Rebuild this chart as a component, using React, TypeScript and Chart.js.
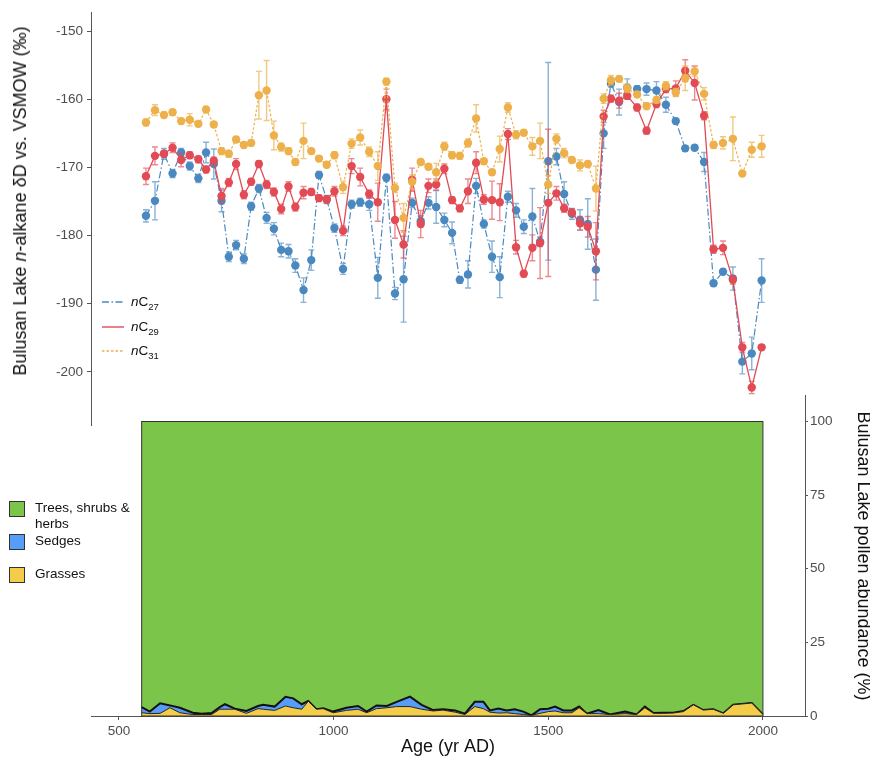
import React, { useEffect, useRef } from 'react';
import { Chart, registerables } from 'chart.js';

Chart.register(...registerables);

const FONT = '"Liberation Sans", Arial, Helvetica, sans-serif';

// ---- n-alkane dD record (yr AD) ----
const ages = [563,584,605,625,645,665,685,703,721,739,756,773,791,808,826,844,861,878,895,911,930,948,966,984,1002,1022,1042,1062,1083,1103,1123,1143,1163,1183,1203,1221,1239,1258,1276,1294,1313,1332,1350,1369,1387,1406,1425,1443,1463,1481,1500,1519,1537,1555,1574,1592,1611,1629,1646,1665,1684,1707,1729,1752,1774,1797,1819,1841,1863,1885,1907,1930,1952,1974,1997];

const nC27 = [-177.1,-174.9,-168.0,-170.9,-167.8,-169.8,-171.6,-167.8,-169.5,-174.9,
-183.1,-181.4,-183.4,-175.7,-173.1,-177.4,-179.0,-182.1,-182.3,-184.4,
-188.0,-183.6,-171.1,-174.7,-178.9,-184.9,-175.4,-175.1,-175.4,-186.2,
-171.5,-188.5,-186.4,-175.2,-177.9,-175.2,-175.8,-177.7,-179.6,-186.5,
-185.7,-172.7,-178.3,-183.1,-186.1,-174.3,-176.3,-178.7,-177.2,-180.9,
-169.1,-168.4,-173.9,-176.8,-177.7,-178.3,-185.0,-165.0,-157.7,-160.4,
-158.3,-158.5,-158.5,-158.7,-160.8,-163.2,-167.2,-167.1,-169.2,-187.0,
-185.3,-186.3,-198.5,-197.3,-186.6];
const nC27Err = [0.9,2.8,0.8,0.6,0.6,0.6,0.6,1.5,2.2,1.6,
0.7,0.7,0.7,0.6,0.6,0.8,0.9,1.0,1.0,1.0,
1.8,1.5,0.5,0.6,0.6,0.8,0.6,0.6,0.9,3.0,
0.5,0.9,6.3,0.7,0.8,0.9,2.4,1.0,1.6,0.5,
2.0,1.1,0.6,2.3,3.0,0.8,1.0,1.0,4.1,0.7,
14.5,1.2,1.8,0.8,1.5,3.7,4.5,2.2,0.5,1.9,
1.3,0.5,0.9,1.3,1.1,0.4,0.4,0.4,1.4,0.4,
0.4,1.7,1.8,2.4,3.2];

const nC29 = [-171.3,-168.3,-168.0,-167.1,-168.9,-168.2,-168.8,-170.3,-169.0,-174.2,
-172.2,-169.5,-174.0,-172.1,-169.5,-172.5,-173.6,-176.1,-172.8,-175.8,
-173.7,-173.6,-174.5,-174.7,-173.5,-179.3,-169.8,-171.4,-173.9,-175.1,
-160.0,-177.7,-181.3,-171.8,-178.3,-172.7,-172.5,-170.2,-174.8,-176.0,
-173.5,-169.3,-174.7,-174.8,-175.1,-165.1,-181.7,-185.6,-181.8,-181.1,
-175.2,-173.8,-176.0,-176.6,-178.2,-178.7,-182.3,-162.5,-159.9,-160.2,
-159.5,-161.2,-164.6,-160.7,-158.5,-158.4,-155.8,-157.6,-162.4,-182.0,
-181.8,-186.5,-196.4,-202.3,-196.4];
const nC29Err = [1.2,1.3,0.5,0.7,1.0,0.5,0.5,0.5,0.5,1.1,
0.6,0.8,0.6,0.5,0.5,0.6,0.6,0.7,0.7,0.6,
0.9,0.5,0.5,0.5,0.7,0.7,1.1,1.3,0.6,2.8,
1.5,2.7,2.0,1.7,2.0,1.0,0.8,0.7,0.5,0.5,
1.8,1.6,0.7,2.8,2.7,0.8,1.0,0.5,1.9,5.2,
10.8,1.0,0.6,0.5,1.0,1.5,4.2,0.9,0.5,1.1,
0.5,0.5,0.5,0.5,0.5,1.1,1.6,2.5,0.6,0.6,
1.0,0.6,0.7,0.9,0.3];

const nC31 = [-163.4,-161.6,-162.3,-161.9,-163.2,-163.0,-163.6,-161.5,-163.7,-167.6,
-168.0,-165.9,-166.7,-166.4,-159.4,-158.7,-165.3,-167.0,-167.6,-169.2,
-166.1,-167.6,-168.7,-169.6,-168.2,-172.9,-166.5,-165.6,-167.7,-169.8,
-157.4,-173.0,-177.4,-172.1,-169.2,-169.9,-170.7,-166.9,-168.2,-168.3,
-166.4,-162.8,-169.1,-170.7,-167.3,-161.2,-165.2,-164.9,-166.9,-166.1,
-172.5,-165.8,-167.9,-168.9,-169.7,-169.5,-173.1,-159.9,-157.2,-157.0,
-158.4,-159.3,-161.0,-160.1,-158.0,-159.0,-156.9,-155.9,-159.2,-166.7,
-166.4,-165.8,-170.9,-167.4,-166.9];
const nC31Err = [0.5,0.8,0.4,0.4,0.4,0.9,0.4,0.4,0.4,0.5,
0.5,0.4,0.4,0.4,3.5,4.4,2.1,0.6,0.5,0.5,
2.6,0.4,0.4,0.4,0.5,0.9,0.7,1.1,0.7,2.1,
0.5,0.7,2.1,1.0,0.4,0.4,1.3,0.6,0.5,0.5,
0.6,2.0,0.4,0.4,1.9,0.7,0.6,0.4,1.3,2.6,
1.3,0.7,0.7,0.4,0.8,0.4,3.3,0.7,0.7,0.4,
0.6,0.4,0.5,0.4,0.6,0.6,1.8,0.7,0.9,0.5,
0.9,3.2,0.3,1.1,1.6];

// ---- pollen record (%) ----
const pollenAges = [553,572,596,619,642,672,693,716,735,747,770,797,824,836,863,888,906,926,941,960,976,999,1030,1057,1077,1100,1124,1147,1178,1205,1232,1255,1283,1306,1329,1349,1364,1384,1403,1422,1442,1461,1481,1500,1516,1535,1555,1572,1590,1617,1644,1679,1706,1725,1745,1768,1791,1815,1838,1861,1884,1908,1931,1974,2000];
const grasses = [1.1,0.8,0.9,2.8,1.1,0.5,0.5,0.5,2.3,2.3,2.3,0.9,2.5,2.3,1.9,3.4,2.8,2.3,5.0,2.3,2.5,1.1,1.9,2.3,1.1,2.5,2.8,3.2,3.2,2.3,1.7,2.0,1.3,0.5,3.2,2.5,1.3,1.0,1.1,0.8,0.5,0.2,0.9,1.5,1.7,1.1,1.1,2.8,0.8,0.8,0.5,0.8,0.5,2.8,0.9,0.9,1.0,1.5,3.8,2.0,2.3,0.9,3.8,4.4,0.5];
const sedges = [1.9,0.7,3.4,0.8,1.7,0.6,0.3,0.5,0.7,1.7,0.2,0.8,0.9,1.5,1.3,3.1,3.2,1.7,0.1,0.0,0.1,0.4,0.9,1.1,0.4,1.1,0.6,1.6,3.4,1.5,0.3,0.3,0.6,0.3,1.6,2.3,0.6,1.5,0.8,1.5,1.0,0.0,1.4,1.0,1.5,0.8,0.8,0.4,0.0,1.2,0.0,0.7,0.0,0.4,0.1,0.2,0.1,0.2,0,0,0,0,0,0,0];
const treesShrubsHerbs = pollenAges.map((_, i) => 100 - grasses[i] - sedges[i]);

const deltaTicks = [-150, -160, -170, -180, -190, -200];
const ageTicks = [500, 1000, 1500, 2000];
const pollenTicks = [0, 25, 50, 75, 100];

const BLUE = '#4A88C0';
const RED = '#E24A54';
const YEL = '#EDB04A';
const BLUE_E = 'rgba(74,136,192,0.65)';
const RED_E = 'rgba(226,74,84,0.65)';
const YEL_E = 'rgba(237,176,74,0.7)';
const P_GREEN = '#7AC54A';
const P_BLUE = '#579CF8';
const P_YEL = '#F3CD4A';
const AXIS = '#555555';
const TICK = '#4d4d4d';

export default function App() {
  const topRef = useRef<HTMLCanvasElement>(null);
  const botRef = useRef<HTMLCanvasElement>(null);

  useEffect(() => {
    const seriesVals = [nC31, nC29, nC27];
    const seriesErr = [nC31Err, nC29Err, nC27Err];
    const errColors = [YEL_E, RED_E, BLUE_E];

    const errorBars = {
      id: 'errorBars',
      beforeDatasetDraw(chart: any, args: any) {
        const i = args.index;
        const vals = seriesVals[i];
        const errs = seriesErr[i];
        const ys = chart.scales.y;
        const ctx = chart.ctx;
        ctx.save();
        ctx.strokeStyle = errColors[i];
        ctx.lineWidth = 1.4;
        args.meta.data.forEach((pt: any, j: number) => {
          const x = pt.x;
          const t = ys.getPixelForValue(vals[j] + errs[j]);
          const b = ys.getPixelForValue(vals[j] - errs[j]);
          ctx.beginPath();
          ctx.moveTo(x, t); ctx.lineTo(x, b);
          ctx.moveTo(x - 3, t); ctx.lineTo(x + 3, t);
          ctx.moveTo(x - 3, b); ctx.lineTo(x + 3, b);
          ctx.stroke();
        });
        ctx.restore();
      },
    };

    const outline = {
      id: 'outline',
      afterDatasetsDraw(chart: any) {
        const xs = chart.scales.x;
        const ys = chart.scales.y;
        const ctx = chart.ctx;
        const x0 = xs.getPixelForValue(pollenAges[0]);
        const x1 = xs.getPixelForValue(pollenAges[pollenAges.length - 1]);
        const y0 = ys.getPixelForValue(0);
        const y1 = ys.getPixelForValue(100);
        ctx.save();
        ctx.strokeStyle = '#333';
        ctx.lineWidth = 1;
        ctx.strokeRect(x0, y1, x1 - x0, y0 - y1);
        ctx.restore();
      },
    };

    const mk = (vals: number[]) => ages.map((a, i) => ({ x: a, y: vals[i] }));

    const top = new Chart(topRef.current as HTMLCanvasElement, {
      type: 'line',
      data: {
        datasets: [
          { label: 'nC31', data: mk(nC31), borderColor: YEL, backgroundColor: YEL, borderWidth: 1.2, borderDash: [2.5, 2], pointRadius: 4.2, pointHoverRadius: 4.2, pointBorderWidth: 0, pointBackgroundColor: YEL, tension: 0 },
          { label: 'nC29', data: mk(nC29), borderColor: RED, backgroundColor: RED, borderWidth: 1.3, pointRadius: 4.2, pointHoverRadius: 4.2, pointBorderWidth: 0, pointBackgroundColor: RED, tension: 0 },
          { label: 'nC27', data: mk(nC27), borderColor: BLUE, backgroundColor: BLUE, borderWidth: 1.2, borderDash: [7, 2.5, 1.5, 2.5], pointRadius: 4.2, pointHoverRadius: 4.2, pointBorderWidth: 0, pointBackgroundColor: BLUE, tension: 0 },
        ],
      } as any,
      options: {
        responsive: false,
        animation: false,
        events: [],
        layout: { padding: { left: 0, right: 65, top: 12, bottom: 334 } },
        plugins: { legend: { display: false }, tooltip: { enabled: false } },
        scales: {
          x: { type: 'linear', display: false, min: 435, max: 2098 },
          y: {
            type: 'linear',
            min: -207.8,
            max: -147.2,
            afterFit: (s: any) => { s.width = 91; },
            afterBuildTicks: (s: any) => { s.ticks = deltaTicks.map((v) => ({ value: v })); },
            grid: { drawOnChartArea: false, drawTicks: true, tickLength: 4, color: AXIS },
            border: { display: true, color: AXIS, width: 1 },
            ticks: { font: { family: FONT, size: 13.5 }, color: TICK, padding: 4, callback: (v: any) => String(v) },
          },
        },
      } as any,
      plugins: [errorBars],
    });

    const bot = new Chart(botRef.current as HTMLCanvasElement, {
      type: 'line',
      data: {
        datasets: [
          { label: 'Grasses', data: pollenAges.map((a, i) => ({ x: a, y: grasses[i] })), fill: 'origin', backgroundColor: P_YEL, borderColor: '#222', borderWidth: 1, pointRadius: 0, tension: 0 },
          { label: 'Sedges', data: pollenAges.map((a, i) => ({ x: a, y: sedges[i] })), fill: '-1', backgroundColor: P_BLUE, borderColor: '#111', borderWidth: 2, pointRadius: 0, tension: 0 },
          { label: 'Trees, shrubs & herbs', data: pollenAges.map((a, i) => ({ x: a, y: treesShrubsHerbs[i] })), fill: '-1', backgroundColor: P_GREEN, borderColor: '#333', borderWidth: 1, pointRadius: 0, tension: 0 },
        ],
      } as any,
      options: {
        responsive: false,
        animation: false,
        events: [],
        layout: { padding: { left: 91, right: 0, top: 395, bottom: 0 } },
        plugins: { legend: { display: false }, tooltip: { enabled: false } },
        scales: {
          x: {
            type: 'linear',
            position: 'bottom',
            min: 435,
            max: 2098,
            afterFit: (s: any) => { s.height = 43; },
            afterBuildTicks: (s: any) => { s.ticks = ageTicks.map((v) => ({ value: v })); },
            grid: { drawOnChartArea: false, drawTicks: true, tickLength: 4, color: AXIS },
            border: { display: true, color: AXIS, width: 1 },
            ticks: { font: { family: FONT, size: 13.5 }, color: TICK, padding: 3, maxRotation: 0, callback: (v: any) => String(v) },
            title: { display: true, text: 'Age (yr AD)', font: { family: FONT, size: 18 }, color: '#111', padding: { top: 0, bottom: 1 } },
          },
          y: {
            type: 'linear',
            position: 'right',
            stacked: true,
            min: 0,
            max: 109,
            afterFit: (s: any) => { s.width = 65; },
            afterBuildTicks: (s: any) => { s.ticks = pollenTicks.map((v) => ({ value: v })); },
            grid: { drawOnChartArea: false, drawTicks: true, tickLength: 3, color: AXIS },
            border: { display: true, color: AXIS, width: 1 },
            ticks: { font: { family: FONT, size: 13.5 }, color: TICK, padding: 2, callback: (v: any) => String(v) },
          },
        },
      } as any,
      plugins: [outline],
    });

    return () => {
      top.destroy();
      bot.destroy();
    };
  }, []);

  const legendRow = (y: number, color: string, dash: string | undefined, sub: string) => (
    <div key={sub} style={{ position: 'absolute', left: 102, top: y - 8, height: 16, display: 'flex', alignItems: 'center' }}>
      <svg width={22} height={16} style={{ display: 'block' }}>
        <line x1={0} y1={8} x2={22} y2={8} stroke={color} strokeWidth={1.4} strokeDasharray={dash} />
      </svg>
      <span style={{ marginLeft: 7, fontSize: 13.5, color: '#111', lineHeight: '16px', whiteSpace: 'nowrap' }}>
        <i>n</i>C<span style={{ fontSize: 9.5, position: 'relative', top: 4 }}>{sub}</span>
      </span>
    </div>
  );

  const boxRow = (y: number, color: string, lines: string[]) => (
    <div key={lines[0]} style={{ position: 'absolute', left: 9, top: y, display: 'flex', alignItems: 'flex-start' }}>
      <div style={{ width: 16, height: 16, background: color, border: '1px solid #333', boxSizing: 'border-box', marginTop: 1 }} />
      <div style={{ marginLeft: 10, fontSize: 13.5, lineHeight: '16px', color: '#111' }}>
        {lines.map((l) => (
          <div key={l} style={{ whiteSpace: 'nowrap' }}>{l}</div>
        ))}
      </div>
    </div>
  );

  return (
    <div style={{ position: 'absolute', left: 0, top: 0, width: 870, height: 759, overflow: 'hidden', fontFamily: FONT, background: '#fff' }}>
      <canvas ref={botRef} width={870} height={759} style={{ position: 'absolute', left: 0, top: 0, width: 870, height: 759 }} />
      <canvas ref={topRef} width={870} height={759} style={{ position: 'absolute', left: 0, top: 0, width: 870, height: 759 }} />
      <div style={{ position: 'absolute', left: 20, top: 201, transform: 'translate(-50%, -50%) rotate(-90deg)', fontSize: 18, lineHeight: '20px', whiteSpace: 'nowrap', color: '#111' }}>
        Bulusan Lake <i>n</i>-alkane δD vs. VSMOW (‰)
      </div>
      <div style={{ position: 'absolute', left: 855, top: 556, transform: 'translateY(-50%)', writingMode: 'vertical-rl', fontSize: 18, lineHeight: '18px', whiteSpace: 'nowrap', color: '#111' }}>
        Bulusan Lake pollen abundance (%)
      </div>
      {legendRow(302, BLUE, '7 2.5 1.5 2.5', '27')}
      {legendRow(327, RED, undefined, '29')}
      {legendRow(351, YEL, '2.5 2', '31')}
      {boxRow(500, P_GREEN, ['Trees, shrubs &', 'herbs'])}
      {boxRow(533, P_BLUE, ['Sedges'])}
      {boxRow(566, P_YEL, ['Grasses'])}
    </div>
  );
}
